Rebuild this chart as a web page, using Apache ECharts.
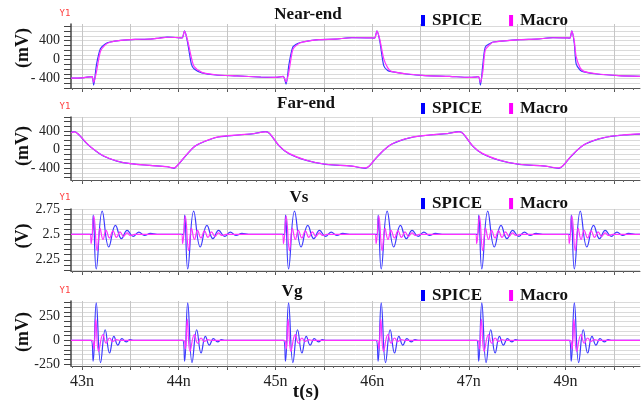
<!DOCTYPE html>
<html><head><meta charset="utf-8">
<script src="https://cdn.jsdelivr.net/npm/echarts@6/dist/echarts.min.js"></script>
<style>html,body{margin:0;padding:0;background:#fff}#c{width:644px;height:400px}</style>
</head><body><div id="c"></div>
<script>
const FONT = '"Liberation Serif","Times New Roman",serif';

// ---- x axis ----
const xMin = 42.886, xMax = 48.77;
const xLabelValues = [43, 44, 45, 46, 47, 48];
const xTickLabels = ['43n', '44n', '45n', '46n', '47n', '49n'];
const xGridValues = [43, 43.5, 44, 44.5, 45, 45.5, 46, 46.5, 47, 47.5, 48, 48.5];
const xMinorValues = [];
for (let k = 429; k <= 487; k++) xMinorValues.push(k / 10);

// ---- texts ----
const panelTitles = ['Near-end', 'Far-end', 'Vs', 'Vg'];
const unitNames = ['(mV)', '(mV)', '(V)', '(mV)'];
const seriesNames = ['SPICE', 'Macro'];

// ---- y axes ----
const nearYGrid = [-600, -500, -400, -300, -200, -100, 0, 100, 200, 300, 400, 500, 600, 700];
const nearYLabelValues = [-400, 0, 400];
const nearYLabels = ['- 400', '0', '400'];
const farYGrid = [-600, -500, -400, -300, -200, -100, 0, 100, 200, 300, 400, 500, 600, 700];
const farYLabelValues = [-400, 0, 400];
const farYLabels = ['- 400', '0', '400'];
const vsYGrid = [2.15, 2.2, 2.25, 2.3, 2.35, 2.4, 2.45, 2.5, 2.55, 2.6, 2.65, 2.7, 2.75];
const vsYLabelValues = [2.25, 2.5, 2.75];
const vsYLabels = ['2.25', '2.5', '2.75'];
const vgYGrid = [-250, -200, -150, -100, -50, 0, 50, 100, 150, 200, 250, 300, 350, 400];
const vgYLabelValues = [-250, 0, 250];
const vgYLabels = ['-250', '0', '250'];

// ---- Near-end (mV) ----
const nearT = [42.886, 43.00, 43.08, 43.105, 43.12, 43.15, 43.19, 43.24, 43.29, 43.40, 43.55, 43.70, 43.80, 43.88, 44.00, 44.035, 44.06, 44.09, 44.13, 44.16, 44.24, 44.38, 44.60, 44.85,
  45.00, 45.08, 45.11, 45.14, 45.18, 45.23, 45.28, 45.45, 45.62, 45.79, 46.00, 46.025, 46.05, 46.08, 46.12, 46.16, 46.20, 46.35, 46.55, 46.80,
  47.00, 47.06, 47.10, 47.12, 47.145, 47.17, 47.22, 47.25, 47.53, 47.70, 47.87, 48.02, 48.045, 48.065, 48.09, 48.11, 48.15, 48.19, 48.32, 48.55, 48.77];
const nearSpice = [-390, -385, -365, -360, -540, -100, 230, 330, 370, 405, 425, 430, 455, 475, 460, 455, 605, 380, -90, -200, -280, -326, -345, -370,
  -375, -355, -517, -100, 263, 340, 370, 420, 430, 462, 456, 452, 605, 380, -128, -230, -256, -305, -340, -355,
  -375, -370, -360, -540, -100, 263, 340, 370, 420, 430, 462, 456, 452, 605, 350, -92, -220, -260, -305, -340, -355];
const nearMacro = [-390, -385, -365, -360, -480, -250, 170, 310, 365, 405, 425, 432, 452, 470, 462, 455, 600, 420, 50, -150, -270, -320, -345, -368,
  -375, -358, -470, -250, 210, 320, 368, 420, 432, 460, 458, 452, 600, 420, 20, -170, -250, -300, -338, -355,
  -375, -370, -360, -480, -250, 200, 320, 365, 420, 432, 460, 458, 452, 600, 400, 60, -170, -250, -300, -338, -355];

// ---- Far-end (mV) ----
const farT = [42.886, 42.92, 42.97, 43.05, 43.12, 43.22, 43.36, 43.50, 43.70, 43.88, 43.95, 43.98, 44.07, 44.17, 44.28, 44.41, 44.62, 44.78, 44.90, 44.94,
  45.04, 45.14, 45.32, 45.52, 45.79, 45.93, 45.97, 46.06, 46.20, 46.40, 46.60, 46.78, 46.90, 46.94,
  47.04, 47.14, 47.32, 47.52, 47.79, 47.93, 47.97, 48.06, 48.20, 48.40, 48.60, 48.77];
const farSpice = [365, 385, 314, 129, 6, -137, -245, -301, -338, -366, -400, -353, -137, 77, 185, 271, 314, 345, 385, 344,
  77, -86, -230, -316, -353, -400, -353, -137, 114, 258, 314, 345, 385, 344,
  77, -86, -230, -316, -353, -400, -353, -137, 114, 258, 314, 335];
const farMacro = [362, 382, 318, 135, 10, -132, -242, -298, -336, -364, -392, -350, -132, 80, 188, 273, 316, 347, 380, 348,
  82, -80, -226, -313, -351, -392, -350, -132, 118, 260, 316, 347, 380, 348,
  82, -80, -226, -313, -351, -392, -350, -132, 118, 260, 316, 337];

// ---- Vs (V) and Vg (mV): ringing bursts after each edge ----
const burstTimes = [43.147, 44.093, 45.136, 46.094, 47.134, 48.091];
const vsBase = 2.5;
const vsSpiceDt = [-0.043, -0.031, 0, 0.062, 0.130, 0.199, 0.261, 0.320, 0.382, 0.440, 0.499, 0.561, 0.630];
const vsSpiceV = [2.5, 2.69, 2.16, 2.73, 2.376, 2.588, 2.458, 2.54, 2.48, 2.523, 2.49, 2.51, 2.5];
const vsMacroDt = [-0.064, -0.052, -0.025, 0.010, 0.039, 0.070, 0.101, 0.137, 0.174, 0.210, 0.246, 0.282, 0.318, 0.354, 0.396];
const vsMacroV = [2.5, 2.41, 2.68, 2.34, 2.56, 2.45, 2.54, 2.465, 2.535, 2.47, 2.525, 2.48, 2.515, 2.49, 2.5];
const vgBase = 0;
const vgSpiceDt = [-0.052, -0.032, 0, 0.045, 0.093, 0.138, 0.183, 0.224, 0.266, 0.310, 0.350, 0.390];
const vgSpiceV = [0, -220, 395, -235, 112, -133, 42, -50, 18, -15, 8, 0];
const vgMacroDt = [-0.041, -0.024, -0.005, 0.024, 0.069, 0.103, 0.138, 0.172, 0.207, 0.250];
const vgMacroV = [0, -90, 225, -115, 60, -30, 25, -12, 8, 0];

function pairs(t, v) { return t.map((x, i) => [x, v[i]]); }
function bursts(dt, v, base) {
  const out = [[xMin, base]];
  burstTimes.forEach(tb => dt.forEach((d, i) => out.push([tb + d, v[i]])));
  out.push([xMax, base]);
  return out;
}

const panels = [
  { top: 24, height: 64, min: -600, max: 750, grid: nearYGrid, lv: nearYLabelValues, lt: nearYLabels, smooth: 0.25,
    spice: pairs(nearT, nearSpice), macro: pairs(nearT, nearMacro), title: [308, 15], legendTop: 7, y1: 13.5, unitY: 48 },
  { top: 117, height: 63, min: -650, max: 700, grid: farYGrid, lv: farYLabelValues, lt: farYLabels, smooth: 0.35,
    spice: pairs(farT, farSpice), macro: pairs(farT, farMacro), title: [306, 104], legendTop: 95, y1: 106.5, unitY: 146 },
  { top: 209, height: 62, min: 2.14, max: 2.75, grid: vsYGrid, lv: vsYLabelValues, lt: vsYLabels, smooth: 0.45,
    spice: bursts(vsSpiceDt, vsSpiceV, vsBase), macro: bursts(vsMacroDt, vsMacroV, vsBase), title: [299, 198], legendTop: 190, y1: 198, unitY: 236 },
  { top: 301, height: 65, min: -270, max: 415, grid: vgYGrid, lv: vgYLabelValues, lt: vgYLabels, smooth: 0.45,
    spice: bursts(vgSpiceDt, vgSpiceV, vgBase), macro: bursts(vgMacroDt, vgMacroV, vgBase), title: [292, 292], legendTop: 282, y1: 291, unitY: 332 }
];

const grids = [], xAxes = [], yAxes = [], series = [], legends = [], graphics = [];
panels.forEach((p, i) => {
  grids.push({ left: 71, right: 4, top: p.top, height: p.height });
  const last = i === panels.length - 1;
  xAxes.push({
    type: 'value', gridIndex: i, min: xMin, max: xMax, position: 'bottom',
    axisLine: { show: true, onZero: false, lineStyle: { color: '#555', width: 1 } },
    axisTick: { show: true, customValues: xGridValues, length: 4, lineStyle: { color: '#555' } },
    splitLine: { show: true, lineStyle: { color: '#c6c6c6', width: 1 } },
    axisLabel: last ? {
      show: true, customValues: xLabelValues, margin: 8,
      fontFamily: FONT, fontSize: 16, color: '#222',
      formatter: v => { const k = xLabelValues.findIndex(x => Math.abs(x - v) < 1e-6); return k >= 0 ? xTickLabels[k] : ''; }
    } : { show: false }
  });
  xAxes.push({
    type: 'value', gridIndex: i, min: xMin, max: xMax, position: 'bottom',
    axisLine: { show: false, onZero: false },
    axisTick: { show: true, customValues: xMinorValues, length: 2, lineStyle: { color: '#666' } },
    splitLine: { show: false }, axisLabel: { show: false }
  });
  yAxes.push({
    type: 'value', gridIndex: i, min: p.min, max: p.max, position: 'left',
    axisLine: { show: true, onZero: false, lineStyle: { color: '#444', width: 1.5 } },
    axisTick: { show: true, customValues: p.grid, length: 7, lineStyle: { color: '#444' } },
    splitLine: { show: true, lineStyle: { color: '#dadada', width: 1 } },
    axisLabel: {
      show: true, customValues: p.lv, margin: 11, fontFamily: FONT, fontSize: 14, color: '#222',
      formatter: v => { const k = p.lv.findIndex(x => Math.abs(x - v) < 1e-6); return k >= 0 ? p.lt[k] : ''; }
    }
  });
  series.push({
    name: seriesNames[0], type: 'line', xAxisIndex: 2 * i, yAxisIndex: i, data: p.spice, smooth: p.smooth,
    showSymbol: false, symbol: 'none', lineStyle: { color: '#3a3aff', width: 1.2 }, itemStyle: { color: '#0000ff' }, z: 2
  });
  series.push({
    name: seriesNames[1], type: 'line', xAxisIndex: 2 * i, yAxisIndex: i, data: p.macro, smooth: p.smooth,
    showSymbol: false, symbol: 'none', lineStyle: { color: '#ff30ff', width: 1.2 }, itemStyle: { color: '#ff00ff' }, z: 3
  });
  legends.push({
    left: 416, top: p.legendTop, icon: 'rect', itemWidth: 4, itemHeight: 11, itemGap: 27,
    selectedMode: false,
    textStyle: { fontFamily: FONT, fontWeight: 'bold', fontSize: 17, color: '#111', padding: [0, 0, 0, 2] },
    data: [{ name: seriesNames[0], itemStyle: { color: '#0000ff' } }, { name: seriesNames[1], itemStyle: { color: '#ff00ff' } }]
  });
  graphics.push({
    type: 'text', x: p.title[0], y: p.title[1],
    style: { text: panelTitles[i], font: 'bold 17px ' + FONT, fill: '#111', align: 'center', verticalAlign: 'middle', textAlign: 'center', textVerticalAlign: 'middle' }
  });
  graphics.push({
    type: 'text', x: 65, y: p.y1,
    style: { text: 'Y1', font: '9px "DejaVu Sans Mono", monospace', fill: '#ff3b3b', align: 'center', verticalAlign: 'middle', textAlign: 'center', textVerticalAlign: 'middle' }
  });
  graphics.push({
    type: 'text', x: 23, y: p.unitY, rotation: Math.PI / 2,
    style: { text: unitNames[i], font: 'bold 18px ' + FONT, fill: '#111', align: 'center', verticalAlign: 'middle', textAlign: 'center', textVerticalAlign: 'middle' }
  });
});
graphics.push({
  type: 'text', x: 306, y: 392,
  style: { text: 't(s)', font: 'bold 19px ' + FONT, fill: '#111', align: 'center', verticalAlign: 'middle', textAlign: 'center', textVerticalAlign: 'middle' }
});

const chart = echarts.init(document.getElementById('c'), null, { renderer: 'canvas' });
chart.setOption({
  animation: false,
  backgroundColor: '#fff',
  grid: grids, xAxis: xAxes, yAxis: yAxes, series: series, legend: legends, graphic: graphics
});
</script></body></html>
